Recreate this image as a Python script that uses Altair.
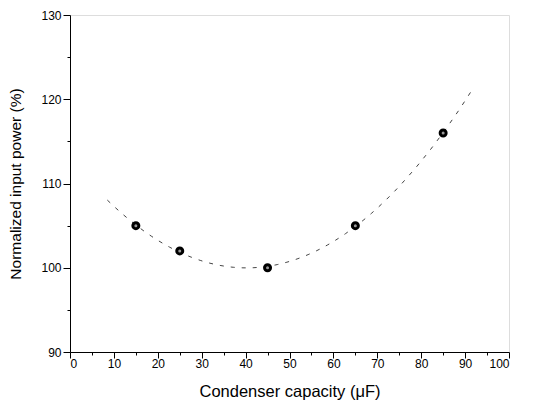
import altair as alt
import pandas as pd

capacity = [15, 25, 45, 65, 85]
power = [105, 102, 100, 105, 116]
x_ticks = list(range(0, 101, 5))
y_ticks = list(range(90, 131, 5))

df = pd.DataFrame({"x": capacity, "y": power})
FONT = "Liberation Sans"

xscale = alt.Scale(domain=[0, 100], nice=False)
yscale = alt.Scale(domain=[90, 130], nice=False)

xaxis = alt.Axis(
    values=x_ticks,
    labelExpr="datum.value % 10 === 0 ? datum.label : ''",
    tickSize=alt.ExprRef(expr="datum.value % 10 === 0 ? 6 : 3"),
    title="Condenser capacity (μF)",
    grid=False,
    domainColor="black", tickColor="black",
    labelColor="black", titleColor="black",
    labelFont=FONT, titleFont=FONT,
    labelFontSize=12, titleFontSize=16.5, titleFontWeight="normal",
    labelPadding=0, titlePadding=14,
)
yaxis = alt.Axis(
    values=y_ticks,
    labelExpr="datum.value % 10 === 0 ? datum.label : ''",
    tickSize=alt.ExprRef(expr="datum.value % 10 === 0 ? 7 : 3"),
    title="Normalized input power (%)",
    grid=False,
    domainColor="black", tickColor="black",
    labelColor="black", titleColor="black",
    labelFont=FONT, titleFont=FONT,
    labelFontSize=12, titleFontSize=15.5, titleFontWeight="normal",
    labelPadding=2, titlePadding=17,
)

base = alt.Chart(df)

fit = base.transform_regression(
    "x", "y", method="poly", order=2, extent=[8.5, 92]
).mark_line(color="#444", strokeWidth=1, strokeDash=[4, 7]).encode(
    x=alt.X("x:Q", scale=xscale, axis=xaxis),
    y=alt.Y("y:Q", scale=yscale, axis=yaxis),
)

pts = base.mark_point(
    filled=False, shape="circle", size=36, stroke="black", strokeWidth=3,
    fill="#999", fillOpacity=1, opacity=1,
).encode(
    x=alt.X("x:Q", scale=xscale, axis=xaxis),
    y=alt.Y("y:Q", scale=yscale, axis=yaxis),
)

chart = (fit + pts).properties(
    width=439, height=337,
    padding={"left": 0, "top": 1, "right": 5, "bottom": 0},
).configure_view(stroke="black", strokeWidth=1).configure(background="white")

chart.save("out.html", embed_options={"renderer": "svg", "actions": False})
